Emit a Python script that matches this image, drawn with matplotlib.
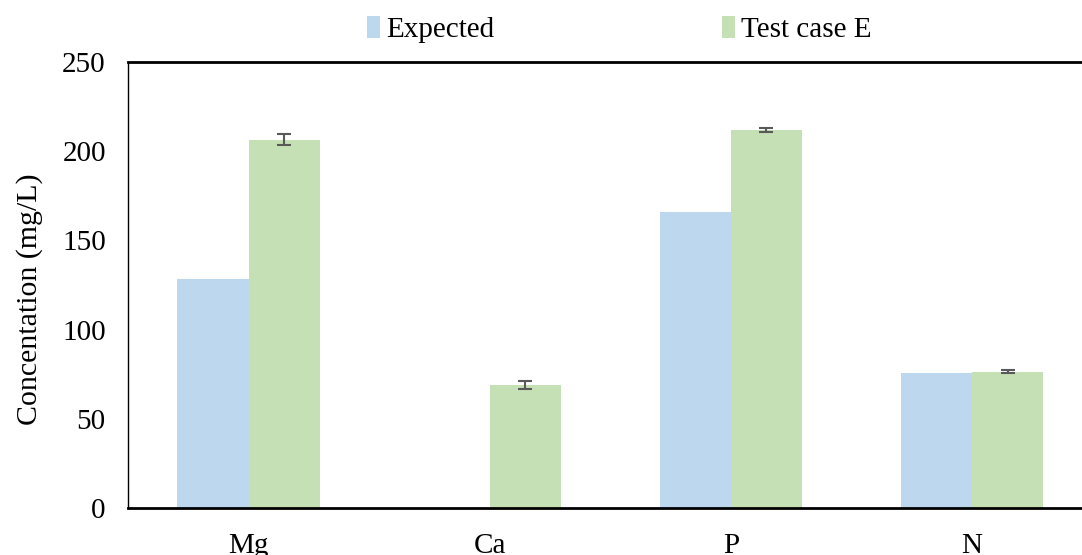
import numpy as np
import matplotlib.pyplot as plt

plt.rcParams['font.family'] = ['Liberation Serif', 'DejaVu Serif']

categories = ['Mg', 'Ca', 'P', 'N']
expected = [128.5, 0, 166.0, 75.7]
test_case_e = [206.5, 68.8, 211.8, 76.5]
test_case_e_err = [3.0, 2.2, 1.0, 1.0]

cor_expected = '#BDD7EE'
cor_teste = '#C5E0B4'

x = np.arange(len(categories))
largura = 0.295

fig = plt.figure(figsize=(10.82, 5.55), dpi=100)
ax = fig.add_axes([0.1183, 0.0847, 0.8817, 0.8036])

ax.bar(x - largura / 2, expected, largura, color=cor_expected, label='Expected')
ax.bar(x + largura / 2, test_case_e, largura, color=cor_teste, label='Test case E',
       yerr=test_case_e_err, error_kw=dict(ecolor='#595959', elinewidth=1.5,
                                           capsize=5, capthick=1.5))

ax.set_xlim(-0.5, 3.456)
ax.set_ylim(0, 250)
ax.set_yticks([0, 50, 100, 150, 200, 250])
ax.set_xticks(x)
ax.set_xticklabels(categories)
ax.tick_params(axis='both', length=0, labelsize=21)
ax.tick_params(axis='y', pad=16)
ax.tick_params(axis='x', pad=18)

ax.spines['right'].set_visible(False)
ax.spines['left'].set_linewidth(1.0)
ax.spines['top'].set_linewidth(2.0)
ax.spines['bottom'].set_linewidth(2.0)
for s in ['left', 'top', 'bottom']:
    ax.spines[s].set_color('black')

ax.set_ylabel('Concentation (mg/L)', fontsize=21.5)
ax.yaxis.set_label_coords(-0.089, 0.469)

ax.legend(loc='lower center', bbox_to_anchor=(0.515, 1.0), ncol=2, frameon=False,
          fontsize=21, handlelength=0.45, handleheight=0.8, handletextpad=0.2,
          columnspacing=7.8, borderaxespad=0.25)

plt.savefig('out.png', dpi=100)
